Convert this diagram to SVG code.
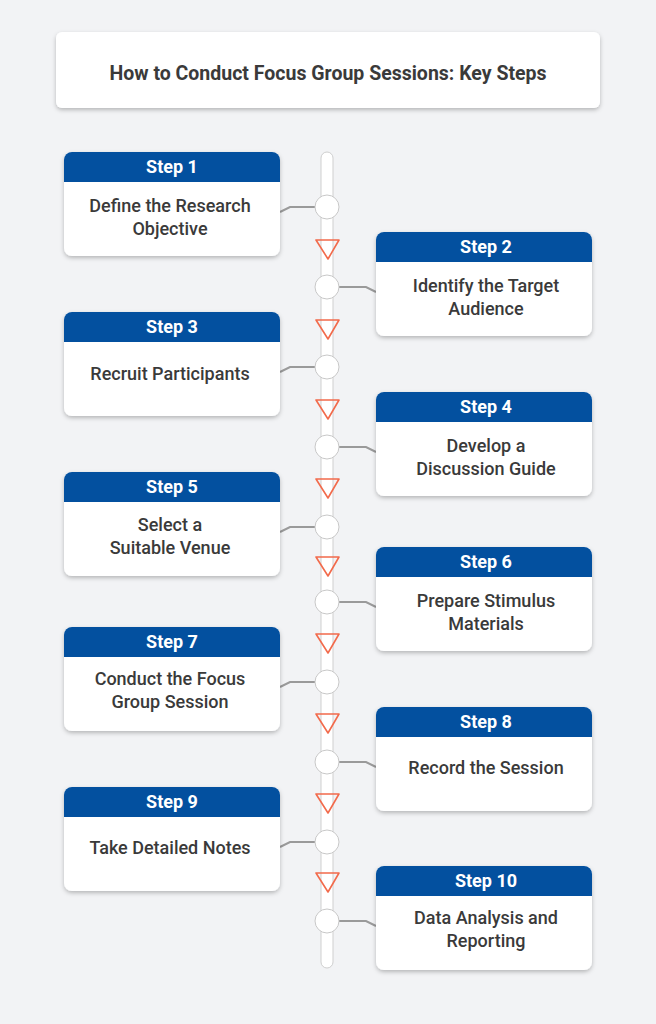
<svg xmlns="http://www.w3.org/2000/svg" width="656" height="1024" viewBox="0 0 656 1024">
<defs>
<filter id="sh" x="-10%" y="-10%" width="120%" height="130%"><feDropShadow dx="0" dy="2" stdDeviation="2" flood-color="#000" flood-opacity="0.25"/></filter>
<style>
.box{fill:#fff;filter:url(#sh)}
.hd{fill:#03509f}
.ht{font-family:Roboto,"Liberation Sans",sans-serif;font-weight:bold;font-size:18px;fill:#fff;text-anchor:middle}
.bt{font-family:Roboto,"Liberation Sans",sans-serif;font-weight:500;font-size:18px;fill:#3a3a3a;text-anchor:middle}
.dot{fill:#fff;stroke:#c8c8c8;stroke-width:1}
.ln{stroke:#9a9a9a;stroke-width:2;fill:none}
.tri{fill:none;stroke:#f26a4b;stroke-width:1.6;stroke-linejoin:round}
</style>
</defs>
<rect width="656" height="1024" fill="#f2f3f5"/>
<g id="title"><rect x="56" y="32" width="544" height="76" rx="6" class="box"/>
<text x="328" y="80" font-family="Roboto,'Liberation Sans',sans-serif" font-weight="bold" font-size="19.5" fill="#3a3a3a" text-anchor="middle">How to Conduct Focus Group Sessions: Key Steps</text></g>
<g id="connectors">
<rect x="321" y="152" width="12" height="816" rx="6" fill="#fff" stroke="#cfcfcf"/>
<path class="ln" d="M280 212 L290 207 L315 207"/><path class="ln" d="M376 292 L366 287 L339 287"/>
<path class="ln" d="M280 372 L290 367 L315 367"/><path class="ln" d="M376 452 L366 447 L339 447"/>
<path class="ln" d="M280 532 L290 527 L315 527"/><path class="ln" d="M376 607 L366 602 L339 602"/>
<path class="ln" d="M280 687 L290 682 L315 682"/><path class="ln" d="M376 767 L366 762 L339 762"/>
<path class="ln" d="M280 847 L290 842 L315 842"/><path class="ln" d="M376 926 L366 921 L339 921"/>
<g class="dot"><circle cx="327" cy="207" r="12"/><circle cx="327" cy="287" r="12"/><circle cx="327" cy="367" r="12"/><circle cx="327" cy="447" r="12"/><circle cx="327" cy="527" r="12"/><circle cx="327" cy="602" r="12"/><circle cx="327" cy="682" r="12"/><circle cx="327" cy="762" r="12"/><circle cx="327" cy="842" r="12"/><circle cx="327" cy="921" r="12"/></g>
<g class="tri"><path d="M316 240 L339 240 L328 259Z"/><path d="M316 320 L339 320 L328 339Z"/><path d="M316 400 L339 400 L328 419Z"/><path d="M316 479 L339 479 L328 498Z"/><path d="M316 557 L339 557 L328 576Z"/><path d="M316 634 L339 634 L328 653Z"/><path d="M316 714 L339 714 L328 733Z"/><path d="M316 794 L339 794 L328 813Z"/><path d="M316 873 L339 873 L328 892Z"/></g>
</g>
<g id="s1"><rect class="box" x="64" y="152" width="216" height="104" rx="8"/><path class="hd" d="M64 182V160a8 8 0 0 1 8-8h200a8 8 0 0 1 8 8v22z"/><text class="ht" x="172" y="173">Step 1</text><text class="bt" x="170" y="212">Define the Research</text><text class="bt" x="170" y="235">Objective</text></g>
<g id="s2"><rect class="box" x="376" y="232" width="216" height="104" rx="8"/><path class="hd" d="M376 262V240a8 8 0 0 1 8-8h200a8 8 0 0 1 8 8v22z"/><text class="ht" x="486" y="253">Step 2</text><text class="bt" x="486" y="292">Identify the Target</text><text class="bt" x="486" y="315">Audience</text></g>
<g id="s3"><rect class="box" x="64" y="312" width="216" height="104" rx="8"/><path class="hd" d="M64 342V320a8 8 0 0 1 8-8h200a8 8 0 0 1 8 8v22z"/><text class="ht" x="172" y="333">Step 3</text><text class="bt" x="170" y="380">Recruit Participants</text></g>
<g id="s4"><rect class="box" x="376" y="392" width="216" height="104" rx="8"/><path class="hd" d="M376 422V400a8 8 0 0 1 8-8h200a8 8 0 0 1 8 8v22z"/><text class="ht" x="486" y="413">Step 4</text><text class="bt" x="486" y="452">Develop a</text><text class="bt" x="486" y="475">Discussion Guide</text></g>
<g id="s5"><rect class="box" x="64" y="472" width="216" height="104" rx="8"/><path class="hd" d="M64 502V480a8 8 0 0 1 8-8h200a8 8 0 0 1 8 8v22z"/><text class="ht" x="172" y="493">Step 5</text><text class="bt" x="170" y="531">Select a</text><text class="bt" x="170" y="554">Suitable Venue</text></g>
<g id="s6"><rect class="box" x="376" y="547" width="216" height="104" rx="8"/><path class="hd" d="M376 577V555a8 8 0 0 1 8-8h200a8 8 0 0 1 8 8v22z"/><text class="ht" x="486" y="568">Step 6</text><text class="bt" x="486" y="607">Prepare Stimulus</text><text class="bt" x="486" y="630">Materials</text></g>
<g id="s7"><rect class="box" x="64" y="627" width="216" height="104" rx="8"/><path class="hd" d="M64 657V635a8 8 0 0 1 8-8h200a8 8 0 0 1 8 8v22z"/><text class="ht" x="172" y="648">Step 7</text><text class="bt" x="170" y="685">Conduct the Focus</text><text class="bt" x="170" y="708">Group Session</text></g>
<g id="s8"><rect class="box" x="376" y="707" width="216" height="104" rx="8"/><path class="hd" d="M376 737V715a8 8 0 0 1 8-8h200a8 8 0 0 1 8 8v22z"/><text class="ht" x="486" y="728">Step 8</text><text class="bt" x="486" y="774">Record the Session</text></g>
<g id="s9"><rect class="box" x="64" y="787" width="216" height="104" rx="8"/><path class="hd" d="M64 817V795a8 8 0 0 1 8-8h200a8 8 0 0 1 8 8v22z"/><text class="ht" x="172" y="808">Step 9</text><text class="bt" x="170" y="854">Take Detailed Notes</text></g>
<g id="s10"><rect class="box" x="376" y="866" width="216" height="104" rx="8"/><path class="hd" d="M376 896V874a8 8 0 0 1 8-8h200a8 8 0 0 1 8 8v22z"/><text class="ht" x="486" y="887">Step 10</text><text class="bt" x="486" y="924">Data Analysis and</text><text class="bt" x="486" y="947">Reporting</text></g>
</svg>
